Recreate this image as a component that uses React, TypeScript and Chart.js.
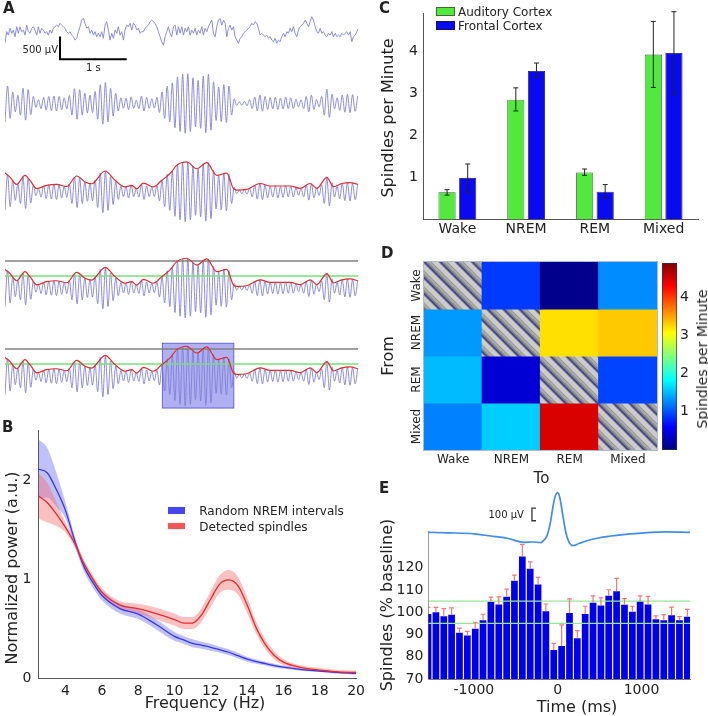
import React, { useEffect, useRef } from "react";
import { Chart, registerables } from "chart.js";

Chart.register(...registerables);

const FONT = "'DejaVu Sans', Verdana, sans-serif";
Chart.defaults.font.family = FONT;
Chart.defaults.color = "#222";

// ================= DATA =================
// ---- Panel A: example EEG trace (µV) ----
const rawTraceUV = [
  -255, 0, -75, 75, -35, 35, -110, 110, -35, 110,
  0, 35, -75, 145, 0, -35, 75, 110, 35, -75,
  110, -35, 75, 35, -35, 0, -75, 35, -35, 75,
  110, 145, 110, 185, 145, 110, 75, 0, -35, 0,
  -75, -110, -185, -145, 0, 110, 255, 295, 185, 75,
  110, -35, 35, -75, 0, -110, -35, -110, 0, -145,
  145, 220, 35, -185, -35, -145, 35, -35, 110, -75,
  0, -185, 35, 145, 110, 185, 35, 185, 145, 35,
  75, -35, 0, 0, 75, 110, 145, 220, 255, 220,
  185, 110, 0, -110, -220, -295, -110, 0, 110, -35,
  -110, 110, 145, -75, 110, -35, 110, -75, 75, 0,
  110, -75, 35, -35, 75, -75, 35, -35, 110, -75,
  75, 0, 110, 185, 255, -35, -110, 110, 255, 295,
  145, 255, 185, -110, 75, 145, 35, 110, -110, -185,
  -255, -145, -110, -35, 0, 35, 75, 110, 185, 145,
  220, 185, 75, -75, -35, -75, -110, -75, -145, -110,
  -185, -220, -145, -255, -185, -220, -110, -35, -110, 0,
  -35, 75, 0, 110, -35, -110, 35, 110, 145, 185,
  255, 185, 110, 220, 330, 255, 110, 0, -35, 75,
  -35, 0, -75, -110, -35, -75, 0, -110, -35, -110,
  -75, -110, -35, -75, -35, 0, -75, 0, -220, -110,
  -75, 0, 75,
];
const rawSampleSec = 0.025;

const filteredTraceUV = [
  -410, 380, -330, 250, -190, 175, -260, 330, -370, 300, -250, 150, -90, 80, -120, 130,
  -150, 150, -160, 160, -170, 150, -140, 120, -125, 170, -260, 320, -350, 300, -260, 220,
  -210, 180, -200, 260, -350, 410, -460, 455, -410, 330, -280, 220, -170, 120, -110, 110,
  -140, 140, -110, 70, -120, 160, -170, 130, -110, 100, -105, 130, -200, 250, -330, 380,
  -410, 450, -540, 580, -620, 640, -660, 650, -620, 560, -520, 505, -550, 600, -645, 640,
  -590, 470, -380, 360, -400, 410, -420, 380, -260, 100, -45, 35, -45, 45, -55, 80,
  -115, 140, -165, 180, -175, 150, -135, 125, -120, 130, -135, 115, -125, 135, -115, 120,
  -115, 90, -80, 75, -115, 150, -185, 180, -135, 80, -80, 150, -260, 310, -310, 200,
  -115, 120, -155, 180, -195, 200, -205, 190, -175, 160,
];
const filteredSampleSec = 0.0386;

const envelopeSec = [
  0, 0.075, 0.175, 0.3, 0.375, 0.475, 0.625, 0.775, 0.925, 1.075, 1.2, 1.3, 1.5, 1.65,
  1.8, 1.9, 1.975, 2.075, 2.225, 2.35, 2.475, 2.575, 2.725, 2.875, 3.025, 3.175, 3.325,
  3.425, 3.475, 3.625, 3.825, 3.975, 4.125, 4.275, 4.425, 4.575, 4.675, 4.825, 4.925,
  5.05, 5.175, 5.29,
];
const envelopeUV = [
  410, 320, 160, 360, 250, 70, 140, 160, 115, 345, 215, 175, 455, 250, 105, 140, 65, 190,
  105, 250, 400, 580, 655, 505, 640, 360, 410, 65, 35, 50, 180, 125, 125, 125, 75, 180,
  75, 315, 110, 180, 200, 160,
];
const upperThresholdUV = 595;
const lowerThresholdUV = 265;
const detectedSpindleSec = [2.36, 3.43];
const scaleBarUV = 500;
const scaleBarSec = 1;

// ---- Panel B: power spectra ----
const freqHz = [2.5, 3, 3.5, 4, 4.5, 5, 5.5, 6, 7, 8, 9, 10, 10.5, 11, 11.5, 12, 12.5, 13, 13.5, 14, 14.5, 15, 15.5, 16, 17, 18, 19, 20];
const randomMean = [2.11, 2.07, 1.9, 1.69, 1.39, 1.13, 0.965, 0.835, 0.7, 0.645, 0.54, 0.42, 0.385, 0.35, 0.33, 0.31, 0.285, 0.26, 0.225, 0.19, 0.165, 0.145, 0.125, 0.11, 0.085, 0.07, 0.056, 0.046];
const randomSem = [0.3, 0.25, 0.17, 0.08, 0.05, 0.05, 0.05, 0.05, 0.05, 0.05, 0.05, 0.045, 0.04, 0.04, 0.035, 0.035, 0.03, 0.03, 0.028, 0.025, 0.022, 0.02, 0.018, 0.015, 0.012, 0.01, 0.01, 0.01];
const spindleMean = [1.84, 1.77, 1.655, 1.52, 1.36, 1.16, 1.0, 0.867, 0.736, 0.7, 0.65, 0.59, 0.555, 0.555, 0.64, 0.8, 0.95, 0.99, 0.93, 0.736, 0.506, 0.34, 0.227, 0.16, 0.105, 0.08, 0.062, 0.056];
const spindleSem = [0.23, 0.2, 0.12, 0.05, 0.04, 0.04, 0.04, 0.04, 0.04, 0.05, 0.06, 0.06, 0.06, 0.06, 0.07, 0.08, 0.09, 0.1, 0.09, 0.08, 0.06, 0.05, 0.04, 0.03, 0.02, 0.02, 0.02, 0.02];
const freqTicks = [4, 6, 8, 10, 12, 14, 16, 18, 20];
const powerTicks = [0, 1, 2];

// ---- Panel C: spindle rate by state ----
const states = ["Wake", "NREM", "REM", "Mixed"];
const auditoryRate = [0.65, 2.85, 1.12, 3.92];
const auditoryErrLow = [0.58, 2.58, 1.05, 3.14];
const auditoryErrHigh = [0.71, 3.13, 1.2, 4.71];
const frontalRate = [0.99, 3.53, 0.66, 3.96];
const frontalErrLow = [0.65, 3.4, 0.51, 2.98];
const frontalErrHigh = [1.32, 3.72, 0.83, 4.94];
const rateTicks = [1, 2, 3, 4];

// ---- Panel D: transition matrix (From rows, To columns) ----
const fromStates = ["Wake", "NREM", "REM", "Mixed"];
const toStates = ["Wake", "NREM", "REM", "Mixed"];
const transitionRates = [
  [null, 0.89, 0.06, 1.28],
  [1.35, null, 3.21, 3.32],
  [1.51, 0.41, null, 0.94],
  [1.23, 1.6, 4.47, null],
];
const colorMin = 0;
const colorMax = 4.9;
const colorbarTicks = [1, 2, 3, 4];

// ---- Panel E: spindles around slow waves ----
const binCentersMs = [-1547, -1453, -1359, -1266, -1172, -1078, -984, -891, -797, -703, -609, -516, -422, -328, -234, -141, -47, 47, 141, 234, 328, 422, 516, 609, 703, 797, 891, 984, 1078, 1172, 1266, 1359, 1453, 1547];
const spindlePct = [99.2, 100, 98.2, 98.9, 90.8, 89.6, 92.6, 96.4, 104.7, 103.5, 107, 114.2, 125, 119.6, 112.5, 100.4, 83, 84.8, 99.7, 88.3, 99.2, 104.3, 103, 107.4, 109.4, 103.4, 100.2, 104.9, 103.5, 96.8, 96.4, 98.6, 96.4, 98];
const spindlePctErrTop = [102.2, 102.2, 101.6, 102, 92.9, 91.4, 95.5, 99.1, 106.8, 106.9, 110.4, 116.7, 130.5, 122.6, 115.7, 103.7, 86, 94.3, 106, 91.7, 102.7, 107.4, 106.5, 110.1, 115.2, 106.1, 102.7, 107.4, 107.1, 98.4, 98.9, 102.3, 98, 101.3];
const baselineBandPct = [95, 105];
const slowWaveMs = [-1544, -1300, -1000, -800, -600, -400, -300, -200, -179, -131, -92, -52, -24, 0, 27, 60, 99, 139, 186, 260, 350, 500, 700, 1000, 1300, 1579];
const slowWaveUV = [0, -4, -12, -29, -47, -79, -77, -81, -71, -32, 61, 219, 298, 316, 271, 140, -5, -84, -105, -87, -67, -43, -24, -6, 4, 0];
const timeTicks = [-1000, 0, 1000];
const pctTicks = [70, 80, 90, 100, 110, 120];
const slowWaveScaleUV = 100;

// ================= LAYOUT / STYLE =================
const A_BOX = { left: 0, top: 0, width: 370, height: 420 };
const A_AREA = { left: 5, right: 358.3, top: 8, bottom: 412 };
const TRACE_CENTERS = [31.7, 103.3, 191.7, 288, 376];
const A_PX_PER_SEC = 66.7;
const A_UV_PER_PX = 22;
const SCALEBAR_ANCHOR = { sec: 0.825, uv: -107 };
const SPINDLE_BOX_UV = [-705, 720];
const TRACE_COLOR = "rgb(128,128,214)";

const B_BOX = { left: 0, top: 415, width: 370, height: 301 };
const C_BOX = { left: 370, top: 0, width: 338, height: 245 };
const D_BOX = { left: 370, top: 245, width: 300, height: 230 };
const CB_BOX = { left: 655, top: 245, width: 53, height: 230 };
const E_BOX = { left: 370, top: 480, width: 338, height: 236 };
const E_X_RANGE = [-1544, 1579];
const E_Y_RANGE = [70, 136.2];
const SW_UV_RANGE = [-1165, 5];
const BRACKET_MS = -307;
const BRACKET_UV0 = 92;

const GREEN = "rgb(82,232,62)";
const BLUE = "rgb(10,10,240)";

function jet(t: number): string {
  const c = (x: number) => Math.max(0, Math.min(1, x));
  const r = c(1.5 - Math.abs(4 * t - 3));
  const g = c(1.5 - Math.abs(4 * t - 2));
  const b = c(1.5 - Math.abs(4 * t - 1));
  return `rgb(${Math.round(r * 255)},${Math.round(g * 255)},${Math.round(b * 255)})`;
}
const JET_STOPS = [0, 0.125, 0.375, 0.625, 0.875, 1];

function makeHatch(): any {
  const s = 16;
  const cv = document.createElement("canvas");
  cv.width = s;
  cv.height = s;
  const g = cv.getContext("2d")!;
  g.fillStyle = "rgb(132,132,132)";
  g.fillRect(0, 0, s, s);
  const stripe = (off: number, w: number, col: string) => {
    g.strokeStyle = col;
    g.lineWidth = w;
    for (const k of [-s, 0, s]) {
      g.beginPath();
      g.moveTo(-4, -4 + k + off);
      g.lineTo(s + 4, s + 4 + k + off);
      g.stroke();
    }
  };
  stripe(0, 4.5, "rgb(205,205,205)");
  stripe(5.5, 2.5, "rgb(168,168,168)");
  stripe(10.5, 1.3, "rgb(62,62,150)");
  return g.createPattern(cv, "repeat");
}

function baseOptions(padding: any) {
  return {
    responsive: false,
    maintainAspectRatio: false,
    animation: false,
    devicePixelRatio: 1,
    events: [],
    layout: { padding, autoPadding: false },
    plugins: { legend: { display: false }, tooltip: { enabled: false } },
  };
}

const fixTicks = (vals: number[]) => (s: any) => {
  s.ticks = vals.map((v) => ({ value: v }));
};

// ================= CHART CONFIGS =================
function configA() {
  const tEnd = (A_AREA.right - A_AREA.left) / A_PX_PER_SEC;
  const scales: any = { x: { type: "linear", display: false, min: 0, max: tEnd } };
  TRACE_CENTERS.forEach((c, k) => {
    scales["y" + k] = {
      type: "linear",
      display: false,
      min: -(A_AREA.bottom - c) * A_UV_PER_PX,
      max: (c - A_AREA.top) * A_UV_PER_PX,
    };
  });
  const raw = () => rawTraceUV.map((v, i) => ({ x: i * rawSampleSec, y: v }));
  const filt = () => filteredTraceUV.map((v, i) => ({ x: i * filteredSampleSec, y: v }));
  const env = () => envelopeSec.map((t, i) => ({ x: t, y: envelopeUV[i] }));
  const hline = (y: number) => [{ x: 0, y }, { x: tEnd, y }];
  const line = (data: any, axis: string, color: string, width: number, order: number, smooth: boolean) => ({
    data,
    yAxisID: axis,
    borderColor: color,
    borderWidth: width,
    pointRadius: 0,
    order,
    fill: false,
    tension: 0,
    cubicInterpolationMode: smooth ? "monotone" : "default",
  });
  const datasets: any[] = [
    line(raw(), "y0", TRACE_COLOR, 0.9, 3, false),
    ...[1, 2, 3, 4].map((k) => line(filt(), "y" + k, TRACE_COLOR, 0.9, 3, true)),
    ...[3, 4].flatMap((k) => [
      line(hline(upperThresholdUV), "y" + k, "rgb(128,128,128)", 1.6, 2, false),
      line(hline(lowerThresholdUV), "y" + k, "rgb(120,222,120)", 1.6, 2, false),
    ]),
    ...[2, 3, 4].map((k) => line(env(), "y" + k, "rgb(222,45,45)", 1.2, 0, true)),
  ];
  const plugin = {
    id: "panelA",
    beforeDatasetsDraw(chart: any) {
      const { ctx, scales: sc } = chart;
      const x0 = sc.x.getPixelForValue(detectedSpindleSec[0]);
      const x1 = sc.x.getPixelForValue(detectedSpindleSec[1]);
      const yT = sc.y4.getPixelForValue(SPINDLE_BOX_UV[1]);
      const yB = sc.y4.getPixelForValue(SPINDLE_BOX_UV[0]);
      ctx.save();
      ctx.fillStyle = "rgba(95,95,228,0.5)";
      ctx.fillRect(x0, yT, x1 - x0, yB - yT);
      ctx.strokeStyle = "rgba(90,90,205,0.9)";
      ctx.lineWidth = 1;
      ctx.strokeRect(x0, yT, x1 - x0, yB - yT);
      ctx.restore();
    },
    afterDatasetsDraw(chart: any) {
      const { ctx, scales: sc } = chart;
      const xa = sc.x.getPixelForValue(SCALEBAR_ANCHOR.sec);
      const xb = sc.x.getPixelForValue(SCALEBAR_ANCHOR.sec + scaleBarSec);
      const ya = sc.y0.getPixelForValue(SCALEBAR_ANCHOR.uv);
      const yb = sc.y0.getPixelForValue(SCALEBAR_ANCHOR.uv - scaleBarUV);
      ctx.save();
      ctx.strokeStyle = "#000";
      ctx.lineWidth = 2;
      ctx.beginPath();
      ctx.moveTo(xa, ya);
      ctx.lineTo(xa, yb);
      ctx.lineTo(xb, yb);
      ctx.stroke();
      ctx.fillStyle = "#222";
      ctx.font = `10px ${FONT}`;
      ctx.textBaseline = "middle";
      ctx.textAlign = "right";
      ctx.fillText(`${scaleBarUV} µV`, xa - 2, (ya + yb) / 2 + 2);
      ctx.textAlign = "center";
      ctx.fillText(`${scaleBarSec} s`, (xa + xb) / 2, yb + 9);
      ctx.restore();
    },
  };
  return {
    type: "line",
    data: { datasets },
    options: {
      ...baseOptions({
        left: A_AREA.left,
        right: A_BOX.width - A_AREA.right,
        top: A_AREA.top,
        bottom: A_BOX.height - A_AREA.bottom,
      }),
      scales,
    },
    plugins: [plugin],
  };
}

function configB() {
  const pts = (arr: number[], sem?: number[], sign = 0) =>
    freqHz.map((f, i) => ({ x: f, y: arr[i] + (sem ? sign * sem[i] : 0) }));
  const common = { pointRadius: 0, cubicInterpolationMode: "monotone", tension: 0 };
  return {
    type: "line",
    data: {
      datasets: [
        { ...common, data: pts(randomMean, randomSem, 1), borderWidth: 0, fill: false, order: 2 },
        { ...common, data: pts(randomMean, randomSem, -1), borderWidth: 0, fill: "-1", backgroundColor: "rgba(105,105,245,0.42)", order: 2 },
        { ...common, data: pts(spindleMean, spindleSem, 1), borderWidth: 0, fill: false, order: 1 },
        { ...common, data: pts(spindleMean, spindleSem, -1), borderWidth: 0, fill: "-1", backgroundColor: "rgba(245,105,105,0.42)", order: 1 },
        { ...common, label: "Random NREM intervals", data: pts(randomMean), borderColor: "rgb(55,55,235)", borderWidth: 1.3, fill: false, order: 0.5 },
        { ...common, label: "Detected spindles", data: pts(spindleMean), borderColor: "rgb(225,45,45)", borderWidth: 1.3, fill: false, order: 0 },
      ],
    },
    options: {
      ...baseOptions({ left: 0, right: 11.7, top: 8.3, bottom: 8 }),
      scales: {
        x: {
          type: "linear",
          min: 2.5,
          max: 20,
          afterBuildTicks: fixTicks(freqTicks),
          afterFit: (s: any) => { s.height = 30; },
          grid: { display: false, drawTicks: false },
          border: { display: true, color: "#555" },
          ticks: { font: { size: 14 }, color: "#222", padding: 5, maxRotation: 0, autoSkip: false },
        },
        y: {
          type: "linear",
          min: 0,
          max: 2.5,
          afterBuildTicks: fixTicks(powerTicks),
          afterFit: (s: any) => { s.width = 38.3; },
          grid: { display: false, drawTicks: false },
          border: { display: true, color: "#555" },
          ticks: { font: { size: 14 }, color: "#222", padding: 7 },
        },
      },
    },
  };
}

function configC() {
  const errs = [
    [auditoryErrLow, auditoryErrHigh],
    [frontalErrLow, frontalErrHigh],
  ];
  const plugin = {
    id: "errC",
    afterDatasetsDraw(chart: any) {
      const { ctx, scales: sc } = chart;
      ctx.save();
      ctx.strokeStyle = "#222";
      ctx.lineWidth = 1;
      errs.forEach(([lo, hi], d) => {
        chart.getDatasetMeta(d).data.forEach((el: any, i: number) => {
          const y0 = sc.y.getPixelForValue(lo[i]);
          const y1 = sc.y.getPixelForValue(hi[i]);
          ctx.beginPath();
          ctx.moveTo(el.x, y0);
          ctx.lineTo(el.x, y1);
          ctx.moveTo(el.x - 2.5, y0);
          ctx.lineTo(el.x + 2.5, y0);
          ctx.moveTo(el.x - 2.5, y1);
          ctx.lineTo(el.x + 2.5, y1);
          ctx.stroke();
        });
      });
      ctx.restore();
    },
  };
  return {
    type: "bar",
    data: {
      labels: states,
      datasets: [
        { label: "Auditory Cortex", data: auditoryRate, backgroundColor: GREEN, borderColor: "rgb(45,90,45)", borderWidth: 0.8 },
        { label: "Frontal Cortex", data: frontalRate, backgroundColor: BLUE, borderColor: "rgb(20,20,90)", borderWidth: 0.8 },
      ],
    },
    options: {
      ...baseOptions({ left: 0, right: 10, top: 5, bottom: 5.5 }),
      datasets: { bar: { categoryPercentage: 0.6, barPercentage: 0.83 } },
      scales: {
        x: {
          afterFit: (s: any) => { s.height = 20; },
          grid: { display: false, drawTicks: false },
          border: { display: true, color: "#555" },
          ticks: { font: { size: 14 }, color: "#222", padding: 1, maxRotation: 0 },
        },
        y: {
          type: "linear",
          min: 0,
          max: 4.9,
          afterBuildTicks: fixTicks(rateTicks),
          afterFit: (s: any) => { s.width = 53; },
          grid: { display: false, drawTicks: false },
          border: { display: true, color: "#555" },
          ticks: { font: { size: 14 }, color: "#222", padding: 5 },
        },
      },
    },
    plugins: [plugin],
  };
}

function configD() {
  const hatch = makeHatch();
  const datasets = fromStates.map((_, r) => {
    const colors = toStates.map((__, c) => {
      const v = transitionRates[r][c];
      return v === null ? hatch : jet((v - colorMin) / (colorMax - colorMin));
    });
    return {
      label: fromStates[r],
      data: toStates.map(() => [r, r + 1]),
      backgroundColor: colors,
      borderWidth: 0,
      inflateAmount: 0.6,
      grouped: false,
      barPercentage: 1,
      categoryPercentage: 1,
    };
  });
  const plugin = {
    id: "dLabels",
    afterDraw(chart: any) {
      const { ctx, chartArea: a, scales: sc } = chart;
      ctx.save();
      ctx.strokeStyle = "rgb(175,185,210)";
      ctx.lineWidth = 1;
      ctx.strokeRect(a.left - 0.5, a.top - 0.5, a.right - a.left + 1, a.bottom - a.top + 1);
      ctx.fillStyle = "#222";
      ctx.font = `12px ${FONT}`;
      ctx.textAlign = "center";
      ctx.textBaseline = "middle";
      fromStates.forEach((s, i) => {
        const y = sc.y.getPixelForValue(i + 0.5);
        ctx.save();
        ctx.translate(a.left - 7.3, y);
        ctx.rotate(-Math.PI / 2);
        ctx.fillText(s, 0, 0);
        ctx.restore();
      });
      ctx.restore();
    },
  };
  return {
    type: "bar",
    data: { labels: toStates, datasets },
    options: {
      ...baseOptions({ left: 54, right: 13, top: 17, bottom: 5 }),
      scales: {
        x: {
          afterFit: (s: any) => { s.height = 20; },
          grid: { display: false, drawTicks: false },
          border: { display: false },
          ticks: { font: { size: 12 }, color: "#222", padding: 3, maxRotation: 0 },
        },
        y: { type: "linear", display: false, min: 0, max: fromStates.length, reverse: true },
      },
    },
    plugins: [plugin],
  };
}

function configColorbar() {
  return {
    type: "bar",
    data: {
      labels: [""],
      datasets: [
        {
          data: [[colorMin, colorMax]],
          backgroundColor: (ctx: any) => {
            const chart = ctx.chart;
            if (!chart.chartArea || !chart.scales.y) return "rgba(0,0,0,0)";
            const ys = chart.scales.y;
            const g = chart.ctx.createLinearGradient(0, ys.getPixelForValue(colorMin), 0, ys.getPixelForValue(colorMax));
            JET_STOPS.forEach((t) => g.addColorStop(t, jet(t)));
            return g;
          },
          borderColor: "#333",
          borderWidth: 1,
          borderSkipped: false,
          barPercentage: 1,
          categoryPercentage: 1,
        },
      ],
    },
    options: {
      ...baseOptions({ left: 7, right: 0, top: 18, bottom: 25 }),
      scales: {
        x: { display: false },
        y: {
          type: "linear",
          position: "right",
          min: colorMin,
          max: colorMax,
          afterBuildTicks: fixTicks(colorbarTicks),
          afterFit: (s: any) => { s.width = 31; },
          grid: { display: false, drawTicks: false },
          border: { display: false },
          ticks: { font: { size: 14 }, color: "#222", padding: 3 },
        },
      },
    },
  };
}

function configE() {
  const hline = (y: number) => [{ x: E_X_RANGE[0], y }, { x: E_X_RANGE[1], y }];
  const datasets: any[] = [
    {
      type: "line",
      data: slowWaveMs.map((t, i) => ({ x: t, y: slowWaveUV[i] })),
      yAxisID: "yT",
      borderColor: "rgb(65,140,235)",
      borderWidth: 1.7,
      pointRadius: 0,
      cubicInterpolationMode: "monotone",
      tension: 0,
      clip: false,
      fill: false,
      order: 0,
    },
    ...baselineBandPct.map((v) => ({
      type: "line",
      data: hline(v),
      yAxisID: "y",
      borderColor: "rgb(150,228,150)",
      borderWidth: 1.2,
      pointRadius: 0,
      fill: false,
      order: 1,
    })),
    {
      type: "bar",
      data: binCentersMs.map((t, i) => ({ x: t, y: spindlePct[i] })),
      yAxisID: "y",
      backgroundColor: "rgb(0,0,232)",
      borderWidth: 0,
      base: E_Y_RANGE[0],
      barPercentage: 0.86,
      categoryPercentage: 1,
      order: 2,
    },
  ];
  const plugin = {
    id: "eAnno",
    afterDatasetsDraw(chart: any) {
      const { ctx, scales: sc, chartArea: a } = chart;
      const barIdx = chart.data.datasets.findIndex((d: any) => d.type === "bar");
      ctx.save();
      ctx.beginPath();
      ctx.rect(a.left, 0, a.right - a.left, chart.height);
      ctx.clip();
      ctx.strokeStyle = "rgb(242,118,118)";
      ctx.lineWidth = 1.2;
      chart.getDatasetMeta(barIdx).data.forEach((el: any, i: number) => {
        const yTop = sc.y.getPixelForValue(spindlePctErrTop[i]);
        ctx.beginPath();
        ctx.moveTo(el.x, el.y);
        ctx.lineTo(el.x, yTop);
        ctx.moveTo(el.x - 2.3, yTop);
        ctx.lineTo(el.x + 2.3, yTop);
        ctx.stroke();
      });
      ctx.restore();
      // scale bracket
      const bx = sc.x.getPixelForValue(BRACKET_MS);
      const b0 = sc.yT.getPixelForValue(BRACKET_UV0);
      const b1 = sc.yT.getPixelForValue(BRACKET_UV0 + slowWaveScaleUV);
      ctx.save();
      ctx.strokeStyle = "#333";
      ctx.lineWidth = 1.3;
      ctx.beginPath();
      ctx.moveTo(bx + 4, b1);
      ctx.lineTo(bx, b1);
      ctx.lineTo(bx, b0);
      ctx.lineTo(bx + 4, b0);
      ctx.stroke();
      ctx.fillStyle = "#222";
      ctx.font = `10px ${FONT}`;
      ctx.textAlign = "right";
      ctx.textBaseline = "middle";
      ctx.fillText(`${slowWaveScaleUV} µV`, bx - 8, (b0 + b1) / 2 + 1);
      ctx.restore();
    },
  };
  return {
    type: "bar",
    data: { datasets },
    options: {
      ...baseOptions({ left: 0, right: 18, top: 51.7, bottom: 7 }),
      scales: {
        x: {
          type: "linear",
          offset: false,
          min: E_X_RANGE[0],
          max: E_X_RANGE[1],
          afterBuildTicks: fixTicks(timeTicks),
          afterFit: (s: any) => { s.height = 30; },
          grid: { display: false, drawTicks: false },
          border: { display: true, color: "#777" },
          ticks: { font: { size: 14 }, color: "#222", padding: 3, maxRotation: 0, autoSkip: false, callback: (v: any) => String(v) },
        },
        y: {
          type: "linear",
          min: E_Y_RANGE[0],
          max: E_Y_RANGE[1],
          afterBuildTicks: fixTicks(pctTicks),
          afterFit: (s: any) => { s.width = 58.3; },
          grid: { display: false, drawTicks: false },
          border: { display: true, color: "#999" },
          ticks: { font: { size: 14 }, color: "#222", padding: 5 },
        },
        yT: { type: "linear", display: false, min: SW_UV_RANGE[0], max: SW_UV_RANGE[1] },
      },
    },
    plugins: [plugin],
  };
}

// ================= COMPONENTS =================
type Box = { left: number; top: number; width: number; height: number };

function ChartCanvas({ box, make }: { box: Box; make: () => any }) {
  const ref = useRef<HTMLCanvasElement | null>(null);
  useEffect(() => {
    if (!ref.current) return;
    const chart = new Chart(ref.current, make());
    return () => chart.destroy();
  }, []);
  return (
    <canvas
      ref={ref}
      width={box.width}
      height={box.height}
      style={{ position: "absolute", left: box.left, top: box.top, width: box.width, height: box.height }}
    />
  );
}

function Txt({ x, y, children, size = 16, rot = false, bold = false, anchor = "center" }: any) {
  let transform = "translate(-50%,-50%)";
  if (rot) transform = "translate(-50%,-50%) rotate(-90deg)";
  if (anchor === "left") transform = "translate(0,-50%)";
  if (anchor === "topleft") transform = "none";
  return (
    <div
      style={{
        position: "absolute",
        left: x,
        top: y,
        transform,
        fontFamily: FONT,
        fontSize: size,
        fontWeight: bold ? "bold" : "normal",
        whiteSpace: "nowrap",
        lineHeight: 1,
        color: "#222",
      }}
    >
      {children}
    </div>
  );
}

function Patch({ x, y, w, h, color, border }: any) {
  return (
    <div
      style={{
        position: "absolute",
        left: x,
        top: y,
        width: w,
        height: h,
        background: color,
        boxSizing: "border-box",
        border: border ? `1px solid ${border}` : "none",
      }}
    />
  );
}

export default function App() {
  return (
    <div style={{ position: "absolute", left: 0, top: 0, width: 708, height: 716, background: "#fff", overflow: "hidden" }}>
      <ChartCanvas box={A_BOX} make={configA} />
      <ChartCanvas box={B_BOX} make={configB} />
      <ChartCanvas box={C_BOX} make={configC} />
      <ChartCanvas box={D_BOX} make={configD} />
      <ChartCanvas box={CB_BOX} make={configColorbar} />
      <ChartCanvas box={E_BOX} make={configE} />

      {/* panel letters */}
      <Txt x={3} y={1} size={15} bold anchor="topleft">A</Txt>
      <Txt x={2} y={420} size={15} bold anchor="topleft">B</Txt>
      <Txt x={379} y={1} size={15} bold anchor="topleft">C</Txt>
      <Txt x={381} y={246} size={15} bold anchor="topleft">D</Txt>
      <Txt x={379} y={481} size={15} bold anchor="topleft">E</Txt>

      {/* B */}
      <Txt x={12} y={568} rot>Normalized power (a.u.)</Txt>
      <Txt x={205} y={703}>Frequency (Hz)</Txt>
      <Patch x={168.3} y={507.3} w={16.7} h={6.7} color="rgb(70,70,240)" />
      <Txt x={199.3} y={511} size={12} anchor="left">Random NREM intervals</Txt>
      <Patch x={168.3} y={522.7} w={16.7} h={6.7} color="rgb(245,85,85)" />
      <Txt x={199.3} y={526.7} size={12} anchor="left">Detected spindles</Txt>

      {/* C */}
      <Txt x={388} y={118} rot>Spindles per Minute</Txt>
      <Patch x={436} y={7} w={19} h={9} color={GREEN} border="rgb(60,110,60)" />
      <Txt x={458} y={12} size={12} anchor="left">Auditory Cortex</Txt>
      <Patch x={436} y={21} w={19} h={9} color={BLUE} border="rgb(20,20,90)" />
      <Txt x={458} y={26} size={12} anchor="left">Frontal Cortex</Txt>

      {/* D */}
      <Txt x={388} y={356} rot>From</Txt>
      <Txt x={541.5} y={478} size={15}>To</Txt>
      <Txt x={701.7} y={359} size={14} rot>Spindles per Minute</Txt>

      {/* E */}
      <Txt x={387} y={605} rot>Spindles (% baseline)</Txt>
      <Txt x={577} y={707}>Time (ms)</Txt>
    </div>
  );
}
